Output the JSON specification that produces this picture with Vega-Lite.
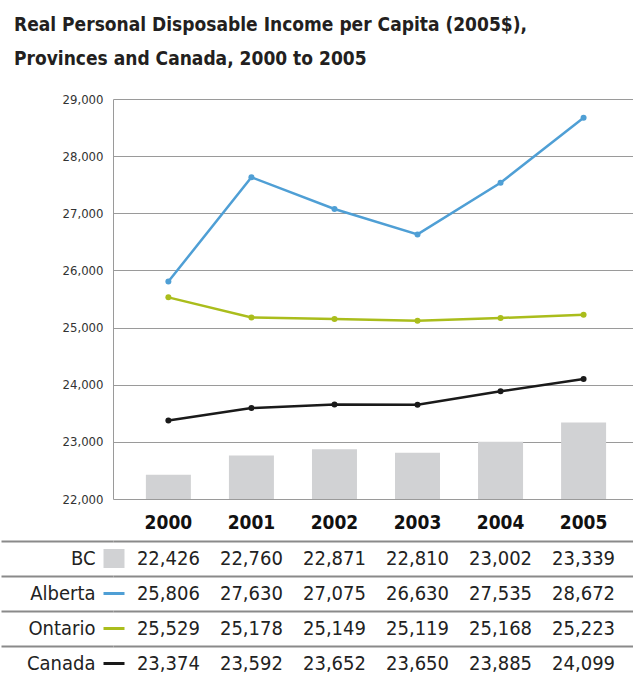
{
  "$schema": "https://vega.github.io/schema/vega-lite/v6.json",
  "background": "white",
  "padding": {"left": 0, "top": 16, "right": 0, "bottom": 0},
  "title": {
    "text": ["Real Personal Disposable Income per Capita (2005$),", "Provinces and Canada, 2000 to 2005"],
    "anchor": "start",
    "font": "DejaVu Sans Condensed, Roboto Condensed, Liberation Sans Narrow, Roboto, sans-serif",
    "fontSize": 19,
    "fontWeight": "bold",
    "color": "#231f20",
    "lineHeight": 34,
    "dx": 14,
    "offset": 24
  },
  "datasets": {
    "income": [
      {"series": "BC", "year": 2000, "value": 22426},
      {"series": "BC", "year": 2001, "value": 22760},
      {"series": "BC", "year": 2002, "value": 22871},
      {"series": "BC", "year": 2003, "value": 22810},
      {"series": "BC", "year": 2004, "value": 23002},
      {"series": "BC", "year": 2005, "value": 23339},
      {"series": "Alberta", "year": 2000, "value": 25806},
      {"series": "Alberta", "year": 2001, "value": 27630},
      {"series": "Alberta", "year": 2002, "value": 27075},
      {"series": "Alberta", "year": 2003, "value": 26630},
      {"series": "Alberta", "year": 2004, "value": 27535},
      {"series": "Alberta", "year": 2005, "value": 28672},
      {"series": "Ontario", "year": 2000, "value": 25529},
      {"series": "Ontario", "year": 2001, "value": 25178},
      {"series": "Ontario", "year": 2002, "value": 25149},
      {"series": "Ontario", "year": 2003, "value": 25119},
      {"series": "Ontario", "year": 2004, "value": 25168},
      {"series": "Ontario", "year": 2005, "value": 25223},
      {"series": "Canada", "year": 2000, "value": 23374},
      {"series": "Canada", "year": 2001, "value": 23592},
      {"series": "Canada", "year": 2002, "value": 23652},
      {"series": "Canada", "year": 2003, "value": 23650},
      {"series": "Canada", "year": 2004, "value": 23885},
      {"series": "Canada", "year": 2005, "value": 24099}
    ]
  },
  "spacing": -1,
  "resolve": {"scale": {"x": "independent", "y": "independent", "color": "independent"}},
  "vconcat": [
    {
      "width": 520,
      "height": 400,
      "data": {"name": "income"},
      "layer": [
        {
          "transform": [{"filter": "datum.series == 'BC'"}],
          "mark": {"type": "bar", "color": "#d1d2d4", "clip": true},
          "encoding": {
            "x": {
              "field": "year", "type": "ordinal",
              "scale": {"type": "band", "paddingInner": 0.458, "paddingOuter": 0.36, "align": 0.55},
              "axis": {"title": null, "labelAngle": 0, "labelFont": "DejaVu Sans Condensed, Roboto Condensed, Liberation Sans Narrow, Roboto, sans-serif", "labelFontWeight": "bold", "labelFontSize": 19, "labelColor": "#111111", "labelPadding": 14, "ticks": false, "domain": false}
            },
            "y": {
              "field": "value", "type": "quantitative",
              "scale": {"domain": [22000, 29000], "zero": false, "nice": false},
              "axis": {"title": null, "values": [22000, 23000, 24000, 25000, 26000, 27000, 28000, 29000], "format": ",.0f", "labelFont": "DejaVu Sans Condensed, Roboto Condensed, Liberation Sans Narrow, Roboto, sans-serif", "labelFontSize": 13, "labelColor": "#333333", "labelPadding": 10, "ticks": false, "domain": true, "domainColor": "#9a9a9a", "gridColor": "#9a9a9a", "gridOpacity": 1}
            }
          }
        },
        {
          "transform": [{"filter": "datum.series != 'BC'"}],
          "mark": {"type": "line", "strokeWidth": 2.5, "point": {"filled": true, "size": 36}},
          "encoding": {
            "x": {"field": "year", "type": "ordinal"},
            "y": {"field": "value", "type": "quantitative"},
            "color": {
              "field": "series", "type": "nominal",
              "scale": {"domain": ["Alberta", "Ontario", "Canada"], "range": ["#4f9fd5", "#aabd1c", "#1a1a1a"]},
              "legend": null
            }
          }
        }
      ]
    },
    {
      "width": 520,
      "height": 140,
      "data": {"name": "income"},
      "resolve": {"scale": {"y": "independent"}},
      "layer": [
        {
          "mark": {"type": "text", "font": "DejaVu Sans Condensed, Roboto Condensed, Liberation Sans Narrow, Roboto, sans-serif", "fontSize": 20, "color": "#222222"},
          "encoding": {
            "x": {
              "field": "year", "type": "ordinal",
              "scale": {"type": "band", "paddingInner": 0.458, "paddingOuter": 0.36, "align": 0.55},
              "axis": null
            },
            "y": {
              "field": "series", "type": "nominal",
              "sort": ["BC", "Alberta", "Ontario", "Canada"],
              "scale": {"paddingInner": 0, "paddingOuter": 0},
              "axis": {"title": null, "orient": "left", "tickBand": "extent", "tickSize": 112, "tickWidth": 2, "tickColor": "#8a8a8a", "grid": true, "gridColor": "#8a8a8a", "gridWidth": 2, "gridOpacity": 1, "domain": false, "labelFont": "DejaVu Sans Condensed, Roboto Condensed, Liberation Sans Narrow, Roboto, sans-serif", "labelFontSize": 20, "labelColor": "#222222", "labelPadding": -94}
            },
            "text": {"field": "value", "type": "quantitative", "format": ",.0f"}
          }
        },
        {
          "mark": {"type": "rule", "strokeOpacity": 0},
          "encoding": {
            "y": {
              "field": "series", "type": "nominal",
              "sort": ["BC", "Alberta", "Ontario", "Canada"],
              "scale": {"paddingInner": 0, "paddingOuter": 0},
              "axis": {
                "title": null, "orient": "left", "offset": -11, "domain": false, "grid": false, "labels": false,
                "ticks": true, "tickSize": 21,
                "tickColor": {"condition": [{"test": "datum.value === 'BC'", "value": "#d1d2d4"}, {"test": "datum.value === 'Alberta'", "value": "#4f9fd5"}, {"test": "datum.value === 'Ontario'", "value": "#aabd1c"}], "value": "#1a1a1a"},
                "tickWidth": {"condition": {"test": "datum.value === 'BC'", "value": 19}, "value": 3}
              }
            }
          }
        }
      ]
    }
  ],
  "config": {"view": {"stroke": null}}
}
